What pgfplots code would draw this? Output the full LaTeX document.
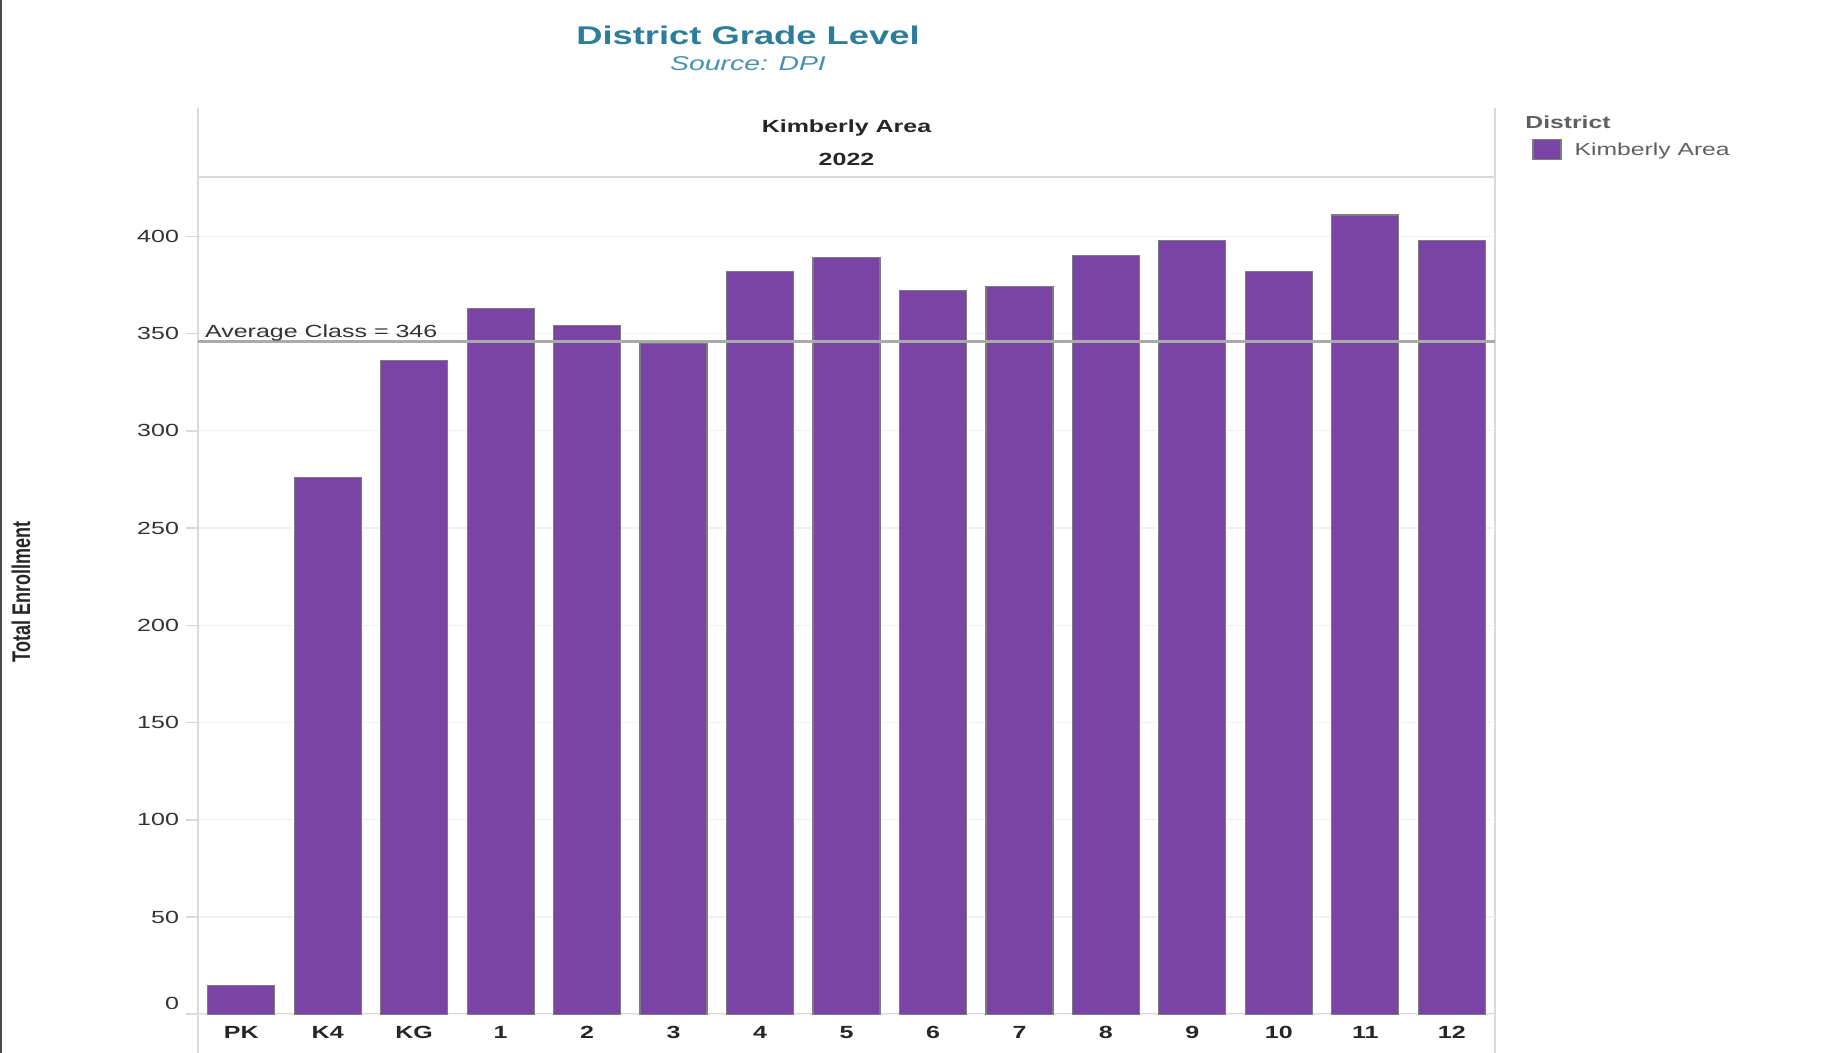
\documentclass[border=0pt]{standalone}
\usepackage{fontspec}
\setmainfont{Liberation Sans}[FakeStretch=1.42]
\newfontfamily\plainfont{Liberation Sans}
\usepackage{graphicx}
\usepackage{pgfplots}
\pgfplotsset{compat=1.18}
\definecolor{barpurple}{RGB}{122,68,166}
\definecolor{baredge}{RGB}{125,125,125}
\definecolor{titleblue}{RGB}{45,125,154}
\definecolor{subblue}{RGB}{70,145,175}
\definecolor{framegray}{RGB}{217,217,217}
\definecolor{gridgray}{RGB}{240,240,240}
\definecolor{avggray}{RGB}{170,170,170}
\definecolor{txt}{RGB}{51,51,51}
\definecolor{legtxt}{RGB}{95,95,95}

\pgfplotstableread{
x val
0 15
1 276
2 336
3 363
4 354
5 345
6 382
7 389
8 372
9 374
10 390
11 398
12 382
13 411
14 398
}\enroll

\begin{document}
\begin{tikzpicture}
\useasboundingbox (0pt,0pt) rectangle (919.5pt,526.5pt);
\draw[gray!60!black, line width=1pt] (0.5pt,0pt) -- (0.5pt,526.5pt);
% frame
\draw[framegray, line width=0.8pt] (99pt,0pt) -- (99pt,472.5pt);
\draw[framegray, line width=0.8pt] (747.5pt,0pt) -- (747.5pt,472.5pt);
\draw[framegray, line width=0.8pt] (99pt,438pt) -- (747.5pt,438pt);
% titles
\node[font=\bfseries\fontsize{12.8}{15}\selectfont, text=titleblue] at (374pt,508.9pt) {District Grade Level};
\node[font=\itshape\fontsize{10}{12}\selectfont, text=subblue] at (374pt,494.9pt) {Source: DPI};
% header
\node[font=\bfseries\fontsize{8.8}{10.5}\selectfont, text=black!85] at (423.25pt,462.7pt) {Kimberly Area};
\node[font=\bfseries\fontsize{8.8}{10.5}\selectfont, text=black!85] at (423.25pt,446.8pt) {2022};
% y label
\node[rotate=90, text=black!85] at (10.5pt,230.5pt) {\scalebox{1}[1.42]{\plainfont\bfseries\fontsize{9}{11}\selectfont Total Enrollment}};
% legend title
\node[anchor=west, inner sep=0pt, font=\bfseries\fontsize{8.7}{10.5}\selectfont, text=legtxt] at (762.5pt,465.5pt) {District};

\begin{axis}[
  at={(99pt,19.35pt)}, anchor=south west,
  scale only axis, width=648.5pt, height=418.65pt,
  xmin=-0.5, xmax=14.5, ymin=0, ymax=430.5,
  ybar, bar width=33.5pt,
  clip=false,
  axis lines*=left,
  axis line style={-, framegray, line width=0.8pt},
  ytick={50,100,...,400},
  extra y ticks={0},
  extra y tick style={yticklabel style={yshift=5.5pt}},
  ymajorgrids, grid style={gridgray, line width=0.6pt},
  tick align=outside,
  major tick length=6pt,
  minor tick length=4pt,
  ytick style={framegray, line width=0.8pt},
  xtick={0,...,14},
  xticklabels={PK,K4,KG,1,2,3,4,5,6,7,8,9,10,11,12},
  xtick style={draw=none},
  minor xtick={-0.5,0.5,...,14.5},
  minor x tick style={framegray, line width=0.8pt},
  /pgf/number format/assume math mode=true,
  y tick label style={font=\fontsize{8.8}{10.5}\selectfont, text=txt},
  x tick label style={font=\bfseries\fontsize{8.8}{10.5}\selectfont, text=black!85, yshift=3.8pt, text height=6.5pt, text depth=0pt},
  legend style={at={(axis description cs:1.0285,1.0325)}, anchor=west, draw=none, fill=none,
    inner sep=0pt, font=\fontsize{8.7}{10.5}\selectfont, text=legtxt,
    nodes={inner sep=0pt},
    /tikz/every odd column/.append style={column sep=6.5pt}},
  legend image code/.code={\draw[fill=barpurple, draw=baredge, line width=0.6pt] (0pt,-4.3pt) rectangle (14pt,5.7pt);},
]
\addplot[fill=barpurple, draw=baredge, line width=0.6pt] table[x=x, y=val] {\enroll};
\addlegendentry{Kimberly Area}
\addplot[sharp plot, avggray, line width=1.5pt, forget plot] coordinates {(-0.5,346) (14.5,346)};
\node[anchor=base west, font=\fontsize{8.8}{10.5}\selectfont, text=txt] at (axis cs:-0.5,346) [yshift=2pt] {Average Class = 346};
\end{axis}
\end{tikzpicture}
\end{document}
